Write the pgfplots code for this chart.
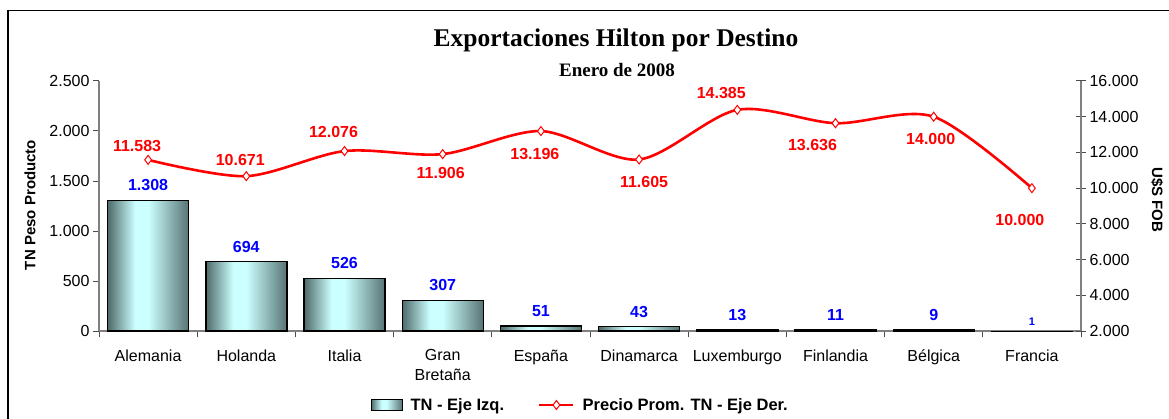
\documentclass[border=0pt]{standalone}
\usepackage{fontspec}
\setmainfont{Liberation Sans}
\newfontfamily\timesfont{Liberation Serif}
\usepackage{pgfplots}
\usepackage{pgfplotstable}
\pgfplotsset{compat=1.18}

\definecolor{bdark}{RGB}{78,106,106}
\definecolor{bdarkr}{RGB}{88,116,116}
\definecolor{blight}{RGB}{204,255,255}
\definecolor{axgray}{RGB}{128,128,128}
\definecolor{lblue}{RGB}{0,0,255}
\definecolor{lred}{RGB}{255,0,0}

% cylinder-like bar fill, lightest a bit left of centre
\pgfdeclarehorizontalshading{barshade}{100bp}{color(0bp)=(bdark); color(25bp)=(bdark); color(42bp)=(blight); color(50bp)=(blight); color(75bp)=(bdarkr); color(100bp)=(bdarkr)}

\pgfplotsset{/pgf/number format/.cd, 1000 sep={.}, assume math mode=true}

% toneladas por destino (eje izq.)
\pgfplotstableread{
x tn
0 1308
1 694
2 526
3 307
4 51
5 43
6 13
7 11
8 9
}\tntable

% precio promedio U$S FOB por TN (eje der.), dx/dy = posicion de la etiqueta
\pgfplotstableread{
x precio dx dy
0 11583 -11 14
1 10671 -6 16
2 12076 -11 19
3 11906 -2 -19
4 13196 -6 -23
5 11605 5 -23
6 14385 -16 17
7 13636 -23 -22
8 14000 -3 -22
9 10000 -12 -32
}\prtable

\begin{document}
\begin{tikzpicture}[x=1pt,y=1pt]
\path[use as bounding box] (0,0) rectangle (1169,418);
\draw[line width=1.5pt] (8,407.5) rectangle (1190,-20);

\begin{axis}[
  at={(99pt,87pt)}, anchor=south west,
  scale only axis, width=982pt, height=250pt,
  xmin=-0.5, xmax=9.5, ymin=0, ymax=2500,
  axis x line*=bottom, axis y line*=left,
  axis line style={draw=axgray, line width=1.3pt, -},
  tick style={draw=black!70, line width=1pt},
  tick align=outside, major tick length=6pt,
  ytick={0,500,...,2500},
  yticklabel style={font=\fontsize{16}{19}\selectfont},
  xtick={-0.5,0.5,...,8.5},
  xticklabels={Alemania,Holanda,Italia,{Gran\\Bretaña},España,Dinamarca,Luxemburgo,Finlandia,Bélgica,Francia},
  xticklabel style={xshift=49.1pt, align=center, anchor=north, yshift=-9pt,
    font=\fontsize{16}{20}\selectfont},
  extra x ticks={9.5}, extra x tick labels={},
]
% one plot per bar, so that each bar gets its own shading
\pgfplotsinvokeforeach{0,...,8}{
\addplot[ybar, bar width=81pt, bar shift=0pt, draw=black, line width=1.4pt,
  shading=barshade, restrict x to domain=#1:#1,
  nodes near coords,
  every node near coord/.append style={anchor=center, yshift=15pt, text=lblue,
    font=\bfseries\fontsize{16}{19}\selectfont}]
  table[x=x, y=tn] {\tntable};
}
\addplot[ybar, bar width=81pt, bar shift=0pt, draw=black, line width=0.4pt, fill=bdark,
  nodes near coords,
  every node near coord/.append style={anchor=center, yshift=9pt, text=lblue,
    font=\bfseries\fontsize{11}{13}\selectfont}]
  coordinates {(9,1)};
\end{axis}

\begin{axis}[
  at={(99pt,87pt)}, anchor=south west,
  scale only axis, width=982pt, height=250pt,
  xmin=-0.5, xmax=9.5, ymin=2000, ymax=16000,
  axis y line*=right, axis x line=none,
  axis line style={draw=axgray, line width=1.3pt, -},
  tick style={draw=black!70, line width=1pt},
  tick align=center, major tick length=10pt,
  ytick={2000,4000,...,16000}, scaled y ticks=false,
  yticklabel style={font=\fontsize{16}{19}\selectfont},
  clip=false,
  legend columns=2,
  legend cell align=left,
  legend style={at={(0.49,-0.296)}, anchor=center, draw=none, fill=none,
    font=\bfseries\fontsize{16.5}{19}\selectfont,
    /tikz/every odd column/.append style={column sep=6pt},
    /tikz/every even column/.append style={column sep=32pt}},
]
\addlegendimage{legend image code/.code={
  \draw[draw=black, line width=1pt, shading=barshade] (0pt,-5.5pt) rectangle (31pt,5.5pt);}}
\addlegendentry{TN - Eje Izq.}
\addplot[lred, line width=2.6pt, smooth, mark=diamond*,
  mark options={fill=white, draw=lred, line width=1pt, solid}, mark size=4.5pt,
  visualization depends on={\thisrow{dx} \as \ldx},
  visualization depends on={\thisrow{dy} \as \ldy},
  nodes near coords,
  every node near coord/.append style={anchor=center, xshift=\ldx pt, yshift=\ldy pt,
    text=lred, font=\bfseries\fontsize{16}{19}\selectfont},
  legend image code/.code={
    \draw[mark repeat=2, mark phase=2] plot coordinates {(0pt,0pt) (17pt,0pt) (34pt,0pt)};}]
  table[x=x, y=precio] {\prtable};
\addlegendentry{Precio Prom. TN - Eje Der.}
\end{axis}

\node[font=\timesfont\bfseries\fontsize{25.5}{28}\selectfont] at (616,378) {Exportaciones Hilton por Destino};
\node[font=\timesfont\bfseries\fontsize{19}{22}\selectfont] at (617,348) {Enero de 2008};
\node[rotate=90, font=\bfseries\fontsize{15}{18}\selectfont] at (30,213) {TN Peso Producto};
\node[rotate=-90, font=\bfseries\fontsize{15}{18}\selectfont] at (1157,218) {U\$S FOB};
\end{tikzpicture}
\end{document}
